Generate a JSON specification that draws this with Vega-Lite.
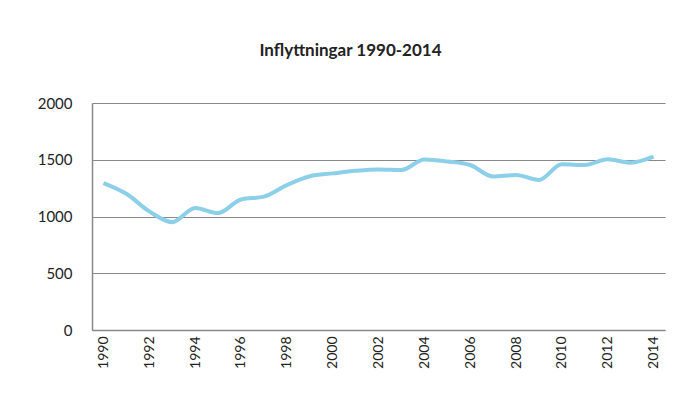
{
  "$schema": "https://vega.github.io/schema/vega-lite/v6.json",
  "width": 573,
  "height": 227,
  "autosize": {"type": "none"},
  "padding": {"left": 92, "top": 103, "right": 26, "bottom": 75},
  "background": "white",
  "title": {
    "text": "Inflyttningar 1990-2014",
    "font": "Lato",
    "fontSize": 17,
    "fontWeight": "bold",
    "color": "#222222",
    "anchor": "middle",
    "dx": -28,
    "offset": 36
  },
  "data": {
    "values": [
      {"year": 1990, "value": 1295},
      {"year": 1991, "value": 1200},
      {"year": 1992, "value": 1045},
      {"year": 1993, "value": 950},
      {"year": 1994, "value": 1075},
      {"year": 1995, "value": 1030},
      {"year": 1996, "value": 1150},
      {"year": 1997, "value": 1175},
      {"year": 1998, "value": 1277},
      {"year": 1999, "value": 1355},
      {"year": 2000, "value": 1380},
      {"year": 2001, "value": 1403},
      {"year": 2002, "value": 1415},
      {"year": 2003, "value": 1410},
      {"year": 2004, "value": 1502},
      {"year": 2005, "value": 1485},
      {"year": 2006, "value": 1454},
      {"year": 2007, "value": 1352},
      {"year": 2008, "value": 1366},
      {"year": 2009, "value": 1322},
      {"year": 2010, "value": 1460},
      {"year": 2011, "value": 1454},
      {"year": 2012, "value": 1504},
      {"year": 2013, "value": 1474},
      {"year": 2014, "value": 1527}
    ]
  },
  "mark": {"type": "line", "color": "#8ccfe8", "strokeWidth": 4, "interpolate": "monotone"},
  "encoding": {
    "x": {
      "field": "year",
      "type": "ordinal",
      "scale": {"type": "point", "padding": 0.5},
      "axis": {
        "title": null,
        "values": [1990, 1992, 1994, 1996, 1998, 2000, 2002, 2004, 2006, 2008, 2010, 2012, 2014],
        "labelAngle": -90,
        "labelFont": "Lato",
        "labelFontSize": 14,
        "labelColor": "#222222",
        "labelPadding": 6,
        "ticks": false,
        "domainColor": "#888888",
        "domainWidth": 1.5,
        "grid": false
      }
    },
    "y": {
      "field": "value",
      "type": "quantitative",
      "scale": {"domain": [0, 2000], "nice": false},
      "axis": {
        "title": null,
        "values": [0, 500, 1000, 1500, 2000],
        "format": "d",
        "labelFont": "Lato",
        "labelFontSize": 15,
        "labelColor": "#222222",
        "labelPadding": 20,
        "ticks": false,
        "domainColor": "#888888",
        "domainWidth": 1.5,
        "grid": true,
        "gridColor": "#888888",
        "gridWidth": 1
      }
    }
  },
  "config": {"view": {"stroke": null}}
}
